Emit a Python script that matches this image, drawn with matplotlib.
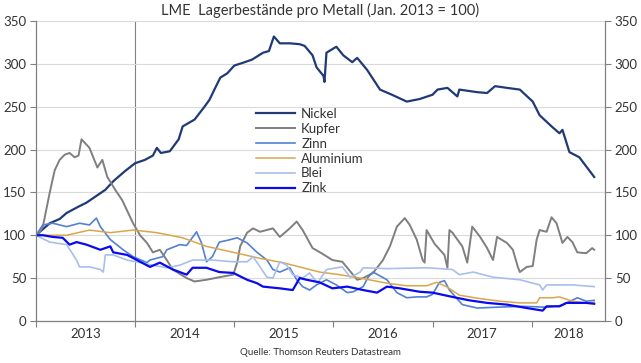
import numpy as np
import matplotlib
matplotlib.use("Agg")
import matplotlib.pyplot as plt

plt.rcParams['font.family'] = ['Lato', 'DejaVu Sans']

# Values (decimal year, index Jan. 2013 = 100)
nickel_t = [2013.00, 2013.07, 2013.14, 2013.24, 2013.31, 2013.44, 2013.51, 2013.70, 2013.78, 2013.90,
            2014.00, 2014.10, 2014.18, 2014.22, 2014.26, 2014.35, 2014.44, 2014.48, 2014.60, 2014.70,
            2014.75, 2014.80, 2014.86, 2014.93, 2015.00, 2015.08, 2015.18, 2015.29, 2015.35, 2015.40,
            2015.46, 2015.56, 2015.66, 2015.71, 2015.79, 2015.83, 2015.90, 2015.91, 2015.93, 2016.00,
            2016.03, 2016.10, 2016.19, 2016.24, 2016.34, 2016.47, 2016.59, 2016.74, 2016.87, 2017.00,
            2017.05, 2017.15, 2017.25, 2017.27, 2017.45, 2017.55, 2017.63, 2017.75, 2017.88, 2018.01,
            2018.08, 2018.21, 2018.28, 2018.31, 2018.38, 2018.48, 2018.63]
nickel_v = [100, 107, 114, 119, 126, 134, 138, 153, 163, 175,
            184, 188, 193, 202, 196, 198, 212, 227, 235, 250,
            258, 270, 284, 289, 298, 301, 305, 313, 315, 332,
            324, 324, 323, 321, 310, 296, 286, 279, 313, 318,
            320, 310, 302, 307, 293, 270, 264, 256, 259, 264,
            270, 272, 262, 270, 267, 266, 274, 272, 270, 256,
            240, 226, 219, 223, 197, 191, 168]

kupfer_t = [2013.00, 2013.03, 2013.07, 2013.14, 2013.19, 2013.24, 2013.29, 2013.34, 2013.39, 2013.43,
            2013.46, 2013.54, 2013.62, 2013.67, 2013.72, 2013.80, 2013.87, 2013.98, 2014.05, 2014.12,
            2014.18, 2014.25, 2014.32, 2014.38, 2014.52, 2014.60, 2014.72, 2014.85, 2014.99, 2015.03,
            2015.06, 2015.13, 2015.19, 2015.26, 2015.39, 2015.46, 2015.56, 2015.63, 2015.69, 2015.79,
            2015.88, 2015.99, 2016.09, 2016.19, 2016.24, 2016.30, 2016.40, 2016.50, 2016.57, 2016.64,
            2016.72, 2016.77, 2016.84, 2016.90, 2016.92, 2016.94, 2017.02, 2017.12, 2017.15, 2017.17,
            2017.20, 2017.30, 2017.35, 2017.40, 2017.48, 2017.55, 2017.61, 2017.65, 2017.75, 2017.81,
            2017.86, 2017.88, 2017.95, 2018.01, 2018.05, 2018.08, 2018.15, 2018.20, 2018.25, 2018.31,
            2018.36, 2018.41, 2018.46, 2018.55, 2018.61, 2018.63]
kupfer_v = [100, 102, 110, 150, 176, 188, 194, 196, 191, 193,
            212, 202, 179, 188, 168, 153, 141, 114, 100, 91,
            80, 83, 71, 60, 50, 46, 48, 51, 54, 68,
            87, 103, 108, 104, 108, 98, 108, 116, 106, 85,
            79, 71, 69, 55, 48, 50, 56, 71, 87, 110,
            120, 112, 95, 71, 68, 106, 90, 77, 62, 106,
            103, 87, 68, 110, 98, 85, 71, 98, 91, 83,
            63, 57, 63, 64, 95, 106, 104, 121, 114, 91,
            98, 92, 80, 79, 85, 83]

zinn_t = [2013.00, 2013.07, 2013.17, 2013.31, 2013.44, 2013.54, 2013.61, 2013.65, 2013.75, 2013.88,
          2013.98, 2014.12, 2014.15, 2014.28, 2014.32, 2014.45, 2014.52, 2014.62, 2014.67, 2014.72,
          2014.78, 2014.85, 2014.93, 2015.03, 2015.13, 2015.23, 2015.33, 2015.39, 2015.46, 2015.56,
          2015.63, 2015.69, 2015.76, 2015.83, 2015.93, 2016.03, 2016.14, 2016.20, 2016.30, 2016.35,
          2016.40, 2016.54, 2016.64, 2016.74, 2016.84, 2016.94, 2017.00, 2017.07, 2017.12, 2017.17,
          2017.30, 2017.45, 2017.65, 2017.91, 2018.15, 2018.30, 2018.46, 2018.55, 2018.63]
zinn_v = [100, 112, 114, 110, 114, 112, 120, 110, 95, 83,
          75, 68, 71, 75, 83, 89, 88, 104, 91, 69,
          75, 92, 94, 97, 91, 80, 71, 60, 57, 62,
          48, 40, 36, 42, 48, 42, 33, 34, 40, 51,
          57, 48, 33, 27, 28, 28, 31, 45, 47, 36,
          19, 15, 16, 17, 16, 18, 27, 23, 24]

alu_t = [2013.00, 2013.31, 2013.54, 2013.75, 2013.98, 2014.22, 2014.48, 2014.72, 2014.99, 2015.26,
         2015.49, 2015.86, 2016.06, 2016.27, 2016.54, 2016.74, 2016.94, 2017.04, 2017.14, 2017.27,
         2017.48, 2017.68, 2017.88, 2018.05, 2018.08, 2018.21, 2018.28, 2018.41, 2018.55, 2018.63]
alu_v = [100, 100, 106, 103, 106, 103, 97, 87, 80, 73,
         68, 57, 54, 50, 44, 41, 41, 45, 40, 30,
         26, 23, 21, 21, 27, 27, 28, 23, 21, 22]

blei_t = [2013.00, 2013.07, 2013.14, 2013.31, 2013.41, 2013.44, 2013.54, 2013.65, 2013.68, 2013.70,
          2013.78, 2013.92, 2014.05, 2014.18, 2014.32, 2014.45, 2014.58, 2014.78, 2014.99, 2015.13,
          2015.19, 2015.26, 2015.33, 2015.39, 2015.46, 2015.53, 2015.59, 2015.69, 2015.76, 2015.84,
          2015.93, 2016.09, 2016.17, 2016.27, 2016.30, 2016.54, 2016.94, 2017.20, 2017.27, 2017.41,
          2017.61, 2017.88, 2018.08, 2018.11, 2018.15, 2018.41, 2018.63]
blei_v = [100, 96, 92, 89, 71, 63, 63, 60, 57, 77,
          77, 71, 68, 65, 62, 65, 71, 71, 69, 69,
          75, 63, 51, 50, 69, 65, 54, 50, 56, 44,
          60, 63, 51, 57, 62, 61, 62, 60, 54, 57,
          51, 48, 42, 36, 42, 42, 40]

zink_t = [2013.00, 2013.07, 2013.17, 2013.27, 2013.34, 2013.41, 2013.51, 2013.65, 2013.75, 2013.78,
          2013.92, 2014.02, 2014.15, 2014.25, 2014.38, 2014.52, 2014.58, 2014.72, 2014.85, 2014.99,
          2015.13, 2015.23, 2015.29, 2015.46, 2015.59, 2015.66, 2015.73, 2015.86, 2015.99, 2016.14,
          2016.30, 2016.44, 2016.54, 2016.67, 2016.87, 2017.00, 2017.20, 2017.37, 2017.55, 2017.75,
          2017.95, 2018.11, 2018.15, 2018.28, 2018.35, 2018.55, 2018.63]
zink_v = [100, 100, 98, 97, 89, 92, 89, 83, 87, 80,
          77, 71, 63, 68, 60, 54, 62, 62, 57, 56,
          48, 44, 40, 38, 36, 50, 48, 45, 38, 40,
          36, 33, 40, 38, 34, 33, 28, 24, 21, 19,
          15, 12, 17, 17, 21, 21, 20]

years = [2013, 2014, 2015, 2016, 2017, 2018]
yticks = [0, 50, 100, 150, 200, 250, 300, 350]

series = [
    ("Nickel", nickel_t, nickel_v, "#203A78", 1.6),
    ("Kupfer", kupfer_t, kupfer_v, "#7F7F7F", 1.4),
    ("Zinn", zinn_t, zinn_v, "#5580D2", 1.2),
    ("Aluminium", alu_t, alu_v, "#D9A74A", 1.1),
    ("Blei", blei_t, blei_v, "#A7BFEA", 1.2),
    ("Zink", zink_t, zink_v, "#0A0AF0", 1.6),
]

fig = plt.figure(figsize=(6.41, 3.63), dpi=100)
ax = fig.add_axes([0.056, 0.116, 0.888, 0.826])

for name, t, v, col, lw in series:
    ax.plot(t, v, color=col, lw=lw, label=name)

x0, x1 = 2013.0, 2018.74
ax.set_xlim(x0, x1)
ax.set_ylim(0, 350)
ax.axvline(2014.0, color="#808080", lw=0.8, zorder=0)

ax.set_yticks(yticks)
ax.grid(axis="y", color="#DADADA", lw=0.8)
ax.set_axisbelow(True)
ax.tick_params(axis="y", direction="out", length=4, color="#808080",
               labelsize=9.5, labelcolor="#333333", left=True, right=True,
               labelleft=True, labelright=True, pad=3)

ax.set_xticks(years)
ax.set_xticklabels([])
mids = [y + 0.5 for y in years[:-1]] + [(2018 + x1) / 2]
ax.set_xticks(mids, minor=True)
ax.set_xticklabels([str(y) for y in years], minor=True)
ax.tick_params(axis="x", which="major", direction="out", length=4, color="#808080")
ax.tick_params(axis="x", which="minor", length=0, labelsize=9.5, labelcolor="#333333", pad=5)

for s in ["left", "right", "bottom"]:
    ax.spines[s].set_color("#808080")
    ax.spines[s].set_linewidth(0.9)
ax.spines["top"].set_visible(False)

ax.legend(loc="upper left", bbox_to_anchor=(0.378, 0.728), frameon=False,
          fontsize=9.5, handlelength=2.9, labelspacing=0.22, handletextpad=0.5,
          borderaxespad=0, labelcolor="#333333")

fig.text(0.5, 0.972, "LME  Lagerbestände pro Metall (Jan. 2013 = 100)", ha="center",
         va="center", fontsize=10.5, color="#333333")
fig.text(0.5, 0.03, "Quelle: Thomson Reuters Datastream", ha="center", va="center",
         fontsize=7, color="#333333")

fig.savefig("out.png", dpi=100)
